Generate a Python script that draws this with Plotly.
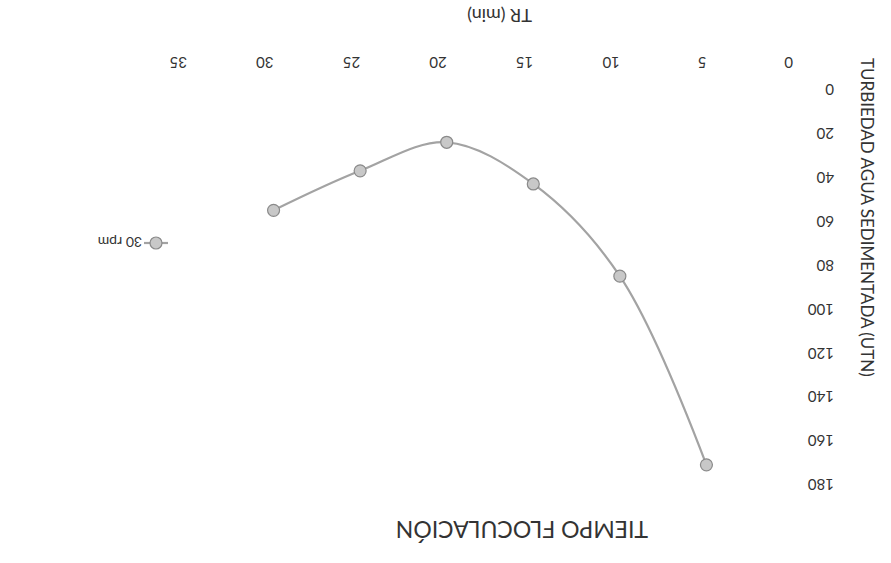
import plotly.graph_objects as go

# Flocculation time vs. settled-water turbidity (drawn rotated 180°)
tr_min = [5, 10, 15, 20, 25, 30]
turbidity_30rpm = [169, 83, 41, 22, 35, 53]
x_ticks = [0, 5, 10, 15, 20, 25, 30, 35]
y_ticks = [0, 20, 40, 60, 80, 100, 120, 140, 160, 180]
series_name = "30 rpm"

W, H = 891, 563
L, R, T, B = 187, 98, 94, 74

text_color = "#333333"
line_color = "#a3a3a3"
font_family = "Lato, Open Sans, sans-serif"

fig = go.Figure()
fig.add_trace(go.Scatter(
    x=tr_min, y=turbidity_30rpm, name=series_name,
    mode="lines+markers",
    line=dict(color=line_color, width=2.2, shape="spline", smoothing=1.0),
    marker=dict(size=12, color="#c8c8c8", line=dict(color="#8a8a8a", width=1.2)),
    showlegend=False,
))

def px_x(p):
    return (p - L) / (W - L - R)

def px_y(p):
    return 1 - (p - T) / (H - T - B)

annotations = [
    dict(text="TIEMPO FLOCULACIÓN", x=px_x(522), y=px_y(530), font=dict(size=23, color=text_color)),
    dict(text="TR (min)", x=px_x(500), y=px_y(16), font=dict(size=18, color=text_color)),
    dict(text="TURBIEDAD AGUA SEDIMENTADA (UTN)", x=px_x(868), y=px_y(217),
         font=dict(size=17, color=text_color), textangle=90),
    dict(text=series_name, x=px_x(120), y=px_y(243), font=dict(size=14, color=text_color)),
]
for a in annotations:
    a.setdefault("textangle", 180)
    a.update(xref="paper", yref="paper", showarrow=False, xanchor="center", yanchor="middle",
             font=dict(family=font_family, **a["font"]))

# Legend sample: short line with the series marker
shapes = [
    dict(type="line", xref="paper", yref="paper",
         x0=px_x(144), x1=px_x(168), y0=px_y(243), y1=px_y(243),
         line=dict(color=line_color, width=2.2)),
    dict(type="circle", xref="paper", yref="paper",
         x0=px_x(150), x1=px_x(162), y0=px_y(237), y1=px_y(249),
         fillcolor="#c8c8c8", line=dict(color="#8a8a8a", width=1.2)),
]

fig.update_layout(
    width=W, height=H,
    margin=dict(l=L, r=R, t=T, b=B),
    paper_bgcolor="white", plot_bgcolor="white",
    font=dict(family=font_family, color=text_color, size=15),
    annotations=annotations,
    shapes=shapes,
    xaxis=dict(
        range=[35, 0], side="top", tickvals=x_ticks, ticktext=[str(v) for v in x_ticks],
        tickangle=180, showgrid=False, zeroline=False, showline=False,
        ticks="", ticklabelstandoff=18, tickfont=dict(size=15, color=text_color),
    ),
    yaxis=dict(
        range=[180, 0], side="right", tickvals=y_ticks, ticktext=[str(v) for v in y_ticks],
        tickangle=180, showgrid=False, zeroline=False, showline=False,
        ticks="", ticklabelstandoff=40, tickfont=dict(size=15, color=text_color),
    ),
)

fig.write_html("out.html")
